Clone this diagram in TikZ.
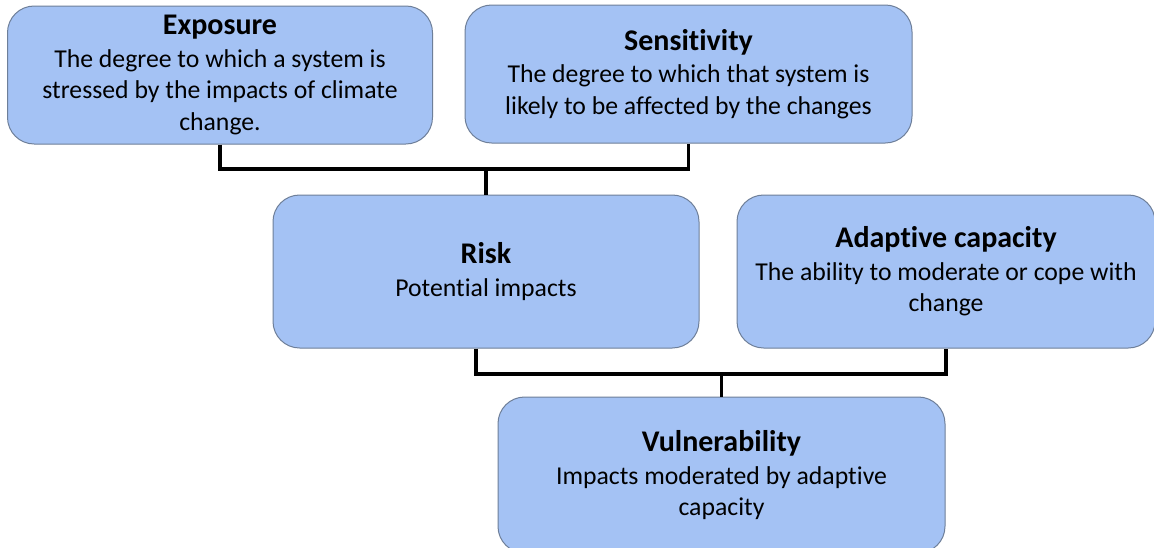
\documentclass[tikz,border=0pt]{standalone}
\usepackage{fontspec}
\setmainfont{Carlito}[Ligatures=NoCommon]
\definecolor{boxfill}{HTML}{A4C2F4}
\definecolor{boxline}{HTML}{6E7F99}
\begin{document}
\begin{tikzpicture}[x=0.75pt,y=-0.75pt,
    block/.style={draw=boxline,line width=0.75pt,fill=boxfill,rounded corners=20pt,
      align=center,inner sep=0pt,font=\fontsize{19.3}{23.5}\selectfont},
    link/.style={line width=2.4pt}]
      \useasboundingbox (0,0) rectangle (1154,547);
      \fill[white] (0,0) rectangle (1154,547);
      \node[block,minimum width=318.75pt,minimum height=103.5pt] (exposure) at (220,75)
        {{\fontsize{22.5}{23.5}\selectfont\bfseries Exposure}\\[1pt]The degree to which a system is\\stressed by the impacts of climate\\change.};
      \node[block,minimum width=335.25pt,minimum height=103.5pt] (sensitivity) at (688.5,74)
        {{\fontsize{22.5}{23.5}\selectfont\bfseries Sensitivity}\\[1pt]The degree to which that system is\\likely to be affected by the changes};
      \node[block,minimum width=319.5pt,minimum height=114.75pt] (risk) at (486,271.5)
        {{\fontsize{22.5}{23.5}\selectfont\bfseries Risk}\\[1pt]Potential impacts};
      \node[block,minimum width=313.5pt,minimum height=114.75pt] (adaptive) at (946,271.5)
        {{\fontsize{22.5}{23.5}\selectfont\bfseries Adaptive capacity}\\[1pt]The ability to moderate or cope with\\change};
      \node[block,minimum width=335.25pt,minimum height=117pt] (vulnerability) at (721.5,475)
        {{\fontsize{22.5}{23.5}\selectfont\bfseries Vulnerability}\\[1pt]Impacts moderated by adaptive\\capacity};
      \coordinate (topjoin) at (486,169);
      \coordinate (riskfoot) at ([xshift=-7.5pt]risk.south);
      \coordinate (lowjoin) at (721.5,374);
      \draw[link] (exposure.south) |- (topjoin) -| (sensitivity.south);
      \draw[link] (topjoin) -- (risk.north);
      \draw[link] (riskfoot) |- (lowjoin) -| (adaptive.south);
      \draw[link] (lowjoin) -- (vulnerability.north);
    \end{tikzpicture}
\end{document}
